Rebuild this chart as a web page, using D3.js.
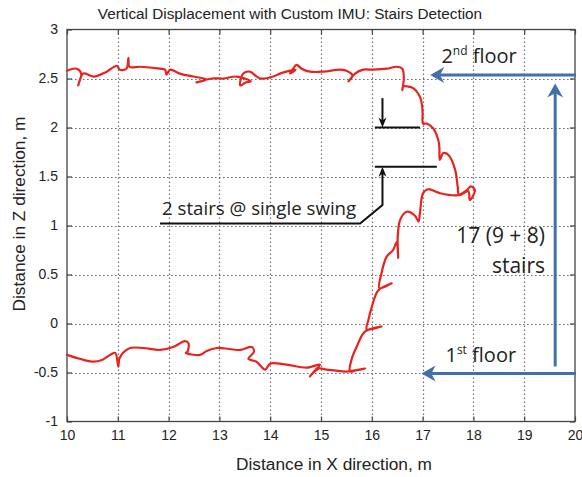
<!DOCTYPE html>
<html>
<head>
<meta charset="utf-8">
<script src="https://cdn.jsdelivr.net/npm/d3@7/dist/d3.min.js"></script>
<style>
  body { margin: 0; background: #fff; }
  svg { display: block; }
</style>
</head>
<body>
<svg id="chart" width="582" height="477"></svg>
<script>
// Axis ticks
const xTicks = [10, 11, 12, 13, 14, 15, 16, 17, 18, 19, 20];
const zTicks = [-1, -0.5, 0, 0.5, 1, 1.5, 2, 2.5, 3];

// Foot trajectory [x, z] in metres, in walking order
// 1st floor corridor, walking towards the staircase
const floor1Track = [
  [10.00,-0.32],[10.25,-0.36],[10.52,-0.39],[10.70,-0.37],[10.85,-0.32],[10.95,-0.30],
  [11.01,-0.44],[11.03,-0.36],[11.10,-0.30],[11.24,-0.25],[11.50,-0.25],[11.83,-0.27],
  [12.09,-0.24],[12.32,-0.18],[12.39,-0.20],[12.37,-0.29],[12.34,-0.30],[12.62,-0.32],
  [12.75,-0.28],[12.95,-0.25],[13.20,-0.26],[13.41,-0.27],[13.64,-0.24],[13.68,-0.29],
  [13.57,-0.36],[13.73,-0.39],[13.90,-0.47],[14.00,-0.41],[14.32,-0.42],[14.72,-0.45],
  [14.98,-0.42],[14.90,-0.47],[14.78,-0.54],[14.95,-0.46],[15.11,-0.47],[15.51,-0.49],
  [15.87,-0.46],[15.68,-0.48]
];
// Staircase: first flight, landing, second flight
const stairsTrack = [
  [15.57,-0.49],[15.60,-0.37],[15.70,-0.24],[15.87,-0.08],[16.19,-0.03],[15.90,-0.06],
  [15.93,0.03],[16.00,0.17],[16.13,0.34],[16.39,0.41],[16.15,0.36],[16.19,0.51],
  [16.29,0.68],[16.42,0.75],[16.49,0.83],[16.52,0.67],[16.51,0.88],[16.56,1.06],
  [16.69,1.14],[16.85,1.10],[16.92,1.04],[16.95,1.14],[17.01,1.33],[17.11,1.37],
  [17.34,1.33],[17.70,1.31],[17.87,1.36],[17.95,1.40],[18.03,1.36],[17.93,1.26],
  [17.90,1.35],[17.72,1.31],[17.69,1.40],[17.64,1.57],[17.51,1.72],[17.41,1.74],
  [17.34,1.67],[17.33,1.80],[17.31,1.87],[17.21,1.99],[17.08,2.04],[17.01,2.04],
  [17.00,2.14],[16.99,2.22],[16.95,2.31],[16.82,2.40],[16.69,2.42],[16.62,2.42],
  [16.60,2.38],[16.63,2.50],[16.60,2.60]
];
// 2nd floor corridor, walking back
const floor2Track = [
  [16.49,2.62],[16.29,2.60],[16.03,2.59],[15.83,2.59],[15.67,2.55],[15.54,2.47],
  [15.62,2.53],[15.50,2.58],[15.37,2.59],[15.05,2.57],[14.78,2.57],[14.62,2.60],
  [14.52,2.64],[14.45,2.60],[14.39,2.55],[14.50,2.59],[14.32,2.57],[14.19,2.55],
  [14.06,2.52],[13.80,2.50],[13.60,2.57],[13.47,2.55],[13.41,2.43],[13.52,2.46],
  [13.62,2.47],[13.34,2.52],[13.08,2.50],[12.85,2.50],[12.55,2.46],[12.75,2.49],
  [12.49,2.52],[12.22,2.55],[12.03,2.59],[11.96,2.54],[11.93,2.59],[11.83,2.60],
  [11.44,2.62],[11.23,2.62],[11.21,2.71],[11.17,2.60],[11.04,2.59],[10.98,2.63],
  [10.78,2.57],[10.52,2.52],[10.32,2.55],[10.22,2.43],[10.28,2.55],[10.19,2.60],
  [10.00,2.58]
];

// Floor levels and the single-swing step marks
const floorLevels = { second: 2.535, first: -0.51 };
const swingLevels = { upper: 2.0, lower: 1.6 };

const svg = d3.select("#chart");
const margin = { left: 67, right: 7, top: 29.5, bottom: 55.5 };
const W = 582, H = 477;

const x = d3.scaleLinear().domain([10, 20]).range([margin.left, W - margin.right]);
const y = d3.scaleLinear().domain([-1, 3]).range([H - margin.bottom, margin.top]);
const snap = v => Math.round(v) + 0.5;

const axisFont = "'Liberation Sans', Arial, sans-serif";
const noteFont = "'Open Sans', 'Noto Sans', sans-serif";

// Dotted grid
const gridStyle = sel => sel
  .attr("stroke", "#6e6e6e").attr("stroke-width", 1.2)
  .attr("stroke-dasharray", "1.6,2.4").attr("fill", "none");
const gridG = svg.append("g");
xTicks.slice(1, -1).forEach(v => {
  gridG.append("path")
    .attr("d", `M${snap(x(v))},${y(3)}V${y(-1)}`)
    .call(gridStyle);
});
zTicks.slice(1, -1).forEach(v => {
  gridG.append("path")
    .attr("d", `M${x(10)},${snap(y(v))}H${x(20)}`)
    .call(gridStyle);
});

// Axes with inward ticks
const fmt = d => String(d);
const axisStyle = g => {
  g.select(".domain").remove();
  g.selectAll(".tick line").attr("stroke", "#444").attr("stroke-width", 1.2);
  g.selectAll(".tick text").attr("fill", "#222").attr("font-family", axisFont).attr("font-size", 14);
};
svg.append("g").attr("transform", `translate(0,${y(-1)})`)
  .call(d3.axisBottom(x).tickValues(xTicks).tickFormat(fmt).tickSizeInner(-5).tickPadding(9))
  .call(axisStyle);
svg.append("g").attr("transform", `translate(${x(10)},0)`)
  .call(d3.axisLeft(y).tickValues(zTicks).tickFormat(fmt).tickSizeInner(-5).tickPadding(9))
  .call(axisStyle);
svg.append("g").attr("transform", `translate(0,${y(3)})`)
  .call(d3.axisTop(x).tickValues(xTicks).tickFormat("").tickSizeInner(-5))
  .call(axisStyle);
svg.append("g").attr("transform", `translate(${x(20)},0)`)
  .call(d3.axisRight(y).tickValues(zTicks).tickFormat("").tickSizeInner(-5))
  .call(axisStyle);

svg.append("rect")
  .attr("x", x(10)).attr("y", y(3))
  .attr("width", x(20) - x(10)).attr("height", y(-1) - y(3))
  .attr("fill", "none").attr("stroke", "#444").attr("stroke-width", 1.3);

// Trajectory
const track = floor1Track.concat(stairsTrack, floor2Track);
const line = d3.line().x(d => x(d[0])).y(d => y(d[1])).curve(d3.curveCatmullRom.alpha(0.5));
svg.append("path").datum(track)
  .attr("d", line)
  .attr("fill", "none").attr("stroke", "#e8231f").attr("stroke-width", 2.2)
  .attr("stroke-linejoin", "round").attr("stroke-linecap", "round");

// Title and axis labels
svg.append("text").attr("x", 290).attr("y", 19).attr("text-anchor", "middle")
  .attr("font-family", axisFont).attr("font-size", 15.3).attr("fill", "#222")
  .text("Vertical Displacement with Custom IMU: Stairs Detection");
svg.append("text").attr("x", 334).attr("y", 470).attr("text-anchor", "middle")
  .attr("font-family", axisFont).attr("font-size", 17.3).attr("fill", "#222")
  .text("Distance in X direction, m");
svg.append("text").attr("transform", "translate(25,214) rotate(-90)").attr("text-anchor", "middle")
  .attr("font-family", axisFont).attr("font-size", 17.3).attr("fill", "#222")
  .text("Distance in Z direction, m");

// Blue floor / staircase arrows
const blue = "#4270ad";
const arrows = svg.append("g");
function arrowHead(tx, ty, angle, len, half, color) {
  // notched filled arrowhead pointing along `angle` (degrees), tip at (tx,ty)
  arrows.append("path")
    .attr("d", `M0,0 L${-len},${-half} L${-len * 0.7},0 L${-len},${half} Z`)
    .attr("transform", `translate(${tx},${ty}) rotate(${angle})`)
    .attr("fill", color);
}
[floorLevels.second, floorLevels.first].forEach((lv, i) => {
  const tipX = i === 0 ? x(17.15) : x(16.98);
  arrows.append("line").attr("x1", x(20) + 1).attr("x2", tipX + 8)
    .attr("y1", y(lv)).attr("y2", y(lv))
    .attr("stroke", blue).attr("stroke-width", 3);
  arrowHead(tipX, y(lv), 180, 14, 8, blue);
});
arrows.append("line").attr("x1", x(19.61)).attr("x2", x(19.61))
  .attr("y1", y(-0.44)).attr("y2", y(2.45) + 8)
  .attr("stroke", blue).attr("stroke-width", 3);
arrowHead(x(19.61), y(2.45), -90, 14, 8, blue);

// Black "single swing" marks
const ink = "#111";
const swing = svg.append("g").attr("stroke", ink).attr("stroke-width", 2).attr("fill", "none");
swing.append("line").attr("x1", x(16.21)).attr("x2", x(16.21))
  .attr("y1", y(2.30)).attr("y2", y(swingLevels.upper) - 4);
swing.append("line").attr("x1", x(16.06)).attr("x2", x(16.95))
  .attr("y1", y(swingLevels.upper)).attr("y2", y(swingLevels.upper));
swing.append("line").attr("x1", x(16.06)).attr("x2", x(17.28))
  .attr("y1", y(swingLevels.lower)).attr("y2", y(swingLevels.lower));
swing.append("path")
  .attr("d", d3.line()([
    [x(16.21), y(swingLevels.lower) + 4], [x(16.21), y(1.21)],
    [x(15.77), y(1.02)], [x(11.83), y(1.02)]
  ]));
const tri = (tx, ty, dir) => svg.append("path")
  .attr("d", `M${tx},${ty} L${tx - 4},${ty - 10 * dir} L${tx},${ty - 7 * dir} L${tx + 4},${ty - 10 * dir} Z`)
  .attr("fill", ink);
tri(x(16.21), y(swingLevels.upper), 1);
tri(x(16.21), y(swingLevels.lower), -1);

// Annotation texts
const note = (tx, ty, size, anchor) => svg.append("text")
  .attr("x", tx).attr("y", ty).attr("text-anchor", anchor)
  .attr("font-family", noteFont).attr("font-size", size).attr("fill", "#222");
const t2 = note(x(17.37), y(2.655), 20, "start");
t2.append("tspan").text("2");
t2.append("tspan").attr("dy", -8).attr("font-size", 12).text("nd");
t2.append("tspan").attr("dy", 8).text(" floor");
const t1 = note(x(17.45), y(-0.39), 20, "start");
t1.append("tspan").text("1");
t1.append("tspan").attr("dy", -8).attr("font-size", 12).text("st");
t1.append("tspan").attr("dy", 8).text(" floor");
note(x(19.41), y(0.82), 21, "end").text("17 (9 + 8)");
note(x(19.41), y(0.515), 21, "end").text("stairs");
note(x(11.87), y(1.107), 18.7, "start").text("2 stairs @ single swing");
</script>
</body>
</html>
